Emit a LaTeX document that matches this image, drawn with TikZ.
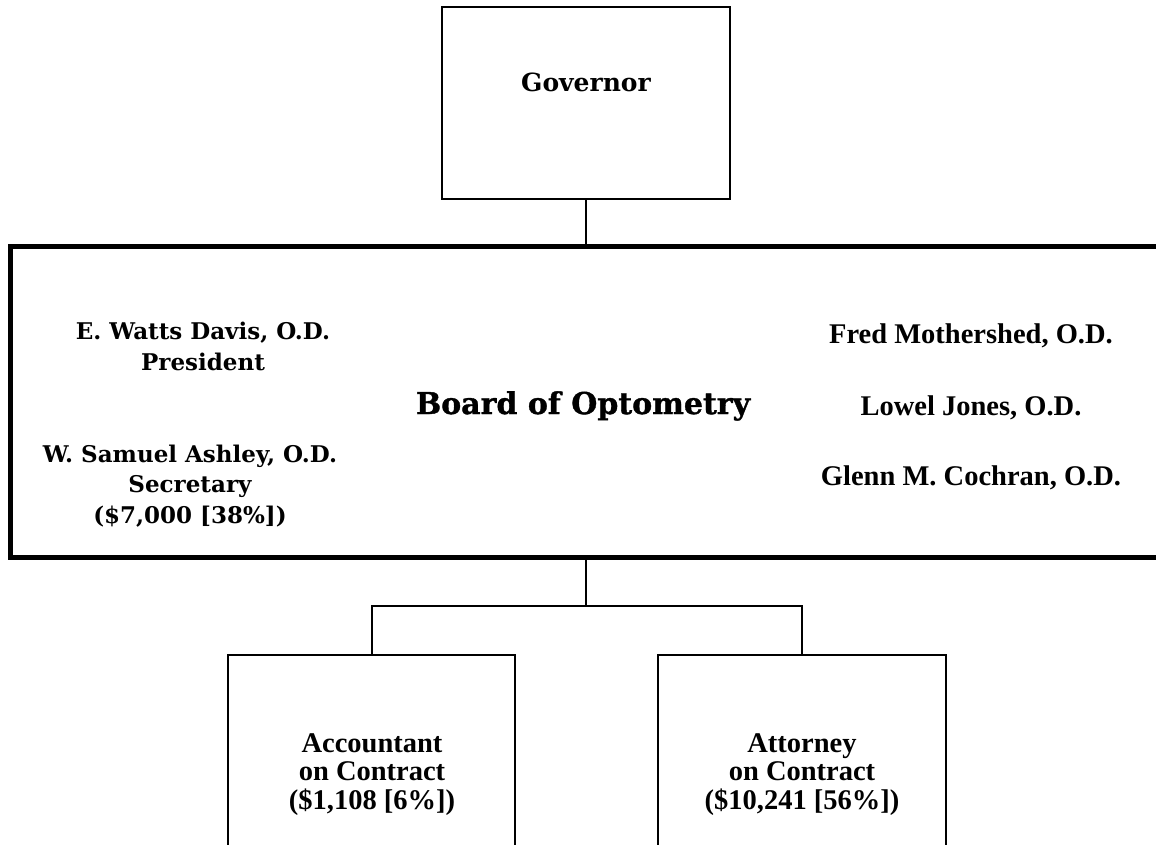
\documentclass[tikz,border=0pt]{standalone}
\usepackage{fontspec}
\setmainfont{Liberation Serif}
\newfontfamily\leftfont{DejaVu Serif}
\newfontfamily\titlefont{DejaVu Serif}[FakeBold=1.2]
\begin{document}
\begin{tikzpicture}[x=1pt,y=-1pt,
  box/.style={draw,line width=2pt,inner sep=0pt,rectangle},
  conn/.style={line width=2pt},
  lbl/.style={font=\fontsize{28.5}{28.5}\selectfont\bfseries,align=center,inner sep=0pt,anchor=base},
  leftlbl/.style={font=\leftfont\fontsize{23}{30.5}\selectfont\bfseries,align=center,inner sep=0pt,anchor=base},
  titlelbl/.style={font=\titlefont\fontsize{30}{32}\selectfont\bfseries,inner sep=0pt,anchor=base}]
\useasboundingbox (0,0) rectangle (1156,844);
\clip (0,0) rectangle (1156,844);
% boxes
\node[box,minimum width=288pt,minimum height=192pt] (gov) at (586,103) {};
\node[box,line width=5pt,minimum width=1190pt,minimum height=311pt] (board) at (605.5,402) {};
\node[box,minimum width=287pt,minimum height=300pt] (acc) at (371.5,805) {};
\node[box,minimum width=288pt,minimum height=300pt] (att) at (802,805) {};
% texts
\node[leftlbl,font=\leftfont\fontsize{25}{30}\selectfont\bfseries] (tgov) at (586,91) {Governor};
\node[leftlbl] (tdavis) at (203,370) {E. Watts Davis, O.D.\\President};
\node[leftlbl] (tashley) at (190,523) {W. Samuel Ashley, O.D.\\Secretary\\(\$7,000 [38\%])};
\node[titlelbl] (ttitle) at (583,414) {Board of Optometry};
\node[lbl] (tfred) at (971,343) {Fred Mothershed, O.D.};
\node[lbl] (tlowel) at (971,415) {Lowel Jones, O.D.};
\node[lbl] (tglenn) at (971,485) {Glenn M. Cochran, O.D.};
\node[lbl] (tacc) at (372,809) {Accountant\\on Contract\\(\$1,108 [6\%])};
\node[lbl] (tatt) at (802,809) {Attorney\\on Contract\\(\$10,241 [56\%])};
% connectors
\coordinate (split) at (586,606);
\draw[conn] (gov.south) -- (gov.south |- board.north);
\draw[conn] (gov.south |- board.south) -- (split);
\draw[conn] (split) -| (acc.north);
\draw[conn] (split) -| (att.north);
\end{tikzpicture}
\end{document}
